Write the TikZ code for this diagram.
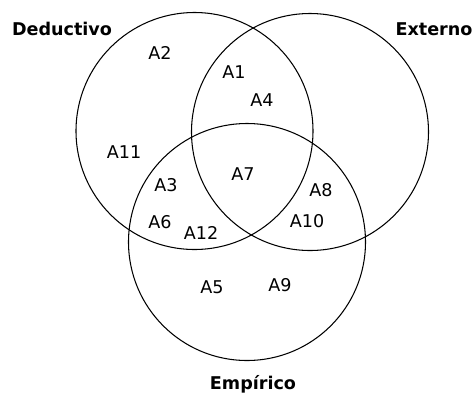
\documentclass[tikz,border=0pt]{standalone}
\usepackage{fontspec}
\setmainfont{DejaVu Sans}
\usepackage{tikz}

\tikzset{
  region/.style={font=\fontsize{15}{18}\selectfont, inner sep=0pt},
  setname/.style={font=\bfseries\fontsize{15}{18}\selectfont, inner sep=0pt}
}

\begin{document}
\begin{tikzpicture}
\useasboundingbox (0.000,0.000) rectangle (14.190,-11.880);
\draw[line width=0.9pt] (5.835,-3.930) circle (3.555);
\draw[line width=0.9pt] (9.300,-3.960) circle (3.555);
\draw[line width=0.9pt] (7.410,-7.260) circle (3.555);
\node[setname] (ded) at (1.860,-0.870) {Deductivo};
\node[setname] (ext) at (13.020,-0.870) {Externo};
\node[setname] (emp) at (7.590,-11.530) {Empírico};
\node[region] (a1) at (7.020,-2.160) {A1};
\node[region] (a2) at (4.800,-1.590) {A2};
\node[region] (a3) at (4.980,-5.550) {A3};
\node[region] (a4) at (7.860,-3.000) {A4};
\node[region] (a5) at (6.360,-8.610) {A5};
\node[region] (a6) at (4.800,-6.660) {A6};
\node[region] (a7) at (7.290,-5.220) {A7};
\node[region] (a8) at (9.630,-5.700) {A8};
\node[region] (a9) at (8.400,-8.550) {A9};
\node[region] (a10) at (9.210,-6.630) {A10};
\node[region] (a11) at (3.720,-4.560) {A11};
\node[region] (a12) at (6.030,-6.990) {A12};
\end{tikzpicture}
\end{document}
